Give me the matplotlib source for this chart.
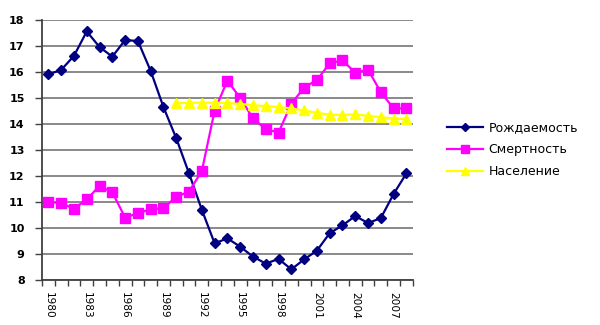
import numpy as np
import matplotlib.pyplot as plt

plt.rcParams['font.family'] = ['DejaVu Sans']

years = list(range(1980, 2009))
birth = [15.91, 16.08, 16.62, 17.56, 16.96, 16.59, 17.23, 17.19, 16.04, 14.65,
         13.45, 12.10, 10.70, 9.41, 9.60, 9.28, 8.90, 8.63, 8.81, 8.41,
         8.79, 9.13, 9.80, 10.10, 10.46, 10.19, 10.38, 11.31, 12.10]
death = [11.01, 10.95, 10.74, 11.10, 11.62, 11.37, 10.40, 10.57, 10.72, 10.76,
         11.20, 11.40, 12.19, 14.51, 15.67, 15.00, 14.22, 13.80, 13.67, 14.78,
         15.40, 15.69, 16.33, 16.45, 15.97, 16.09, 15.22, 14.60, 14.60]
pop_years = list(range(1990, 2009))
population = [14.79, 14.82, 14.82, 14.82, 14.81, 14.77, 14.72, 14.69, 14.65, 14.60,
              14.52, 14.43, 14.36, 14.35, 14.37, 14.31, 14.26, 14.21, 14.19]
labels = ['Рождаемость', 'Смертность', 'Население']

fig = plt.figure(figsize=(6, 3.25), dpi=100)
ax = fig.add_axes([0.07, 0.1385, 0.618, 0.8])

x = np.arange(len(years))
xp = np.array([years.index(y) for y in pop_years])

ax.plot(x, birth, color='#000080', marker='D', markersize=5.5, lw=1.6, label=labels[0], zorder=3)
ax.plot(x, death, color='#FF00FF', marker='s', markersize=6.5, lw=1.6, label=labels[1], zorder=3)
ax.plot(xp, population, color='#FFFF00', marker='^', markersize=7, lw=1.6, label=labels[2], zorder=3)

ax.set_xlim(-0.5, len(years) - 0.5)
ax.set_ylim(8, 18)
ax.set_yticks(range(8, 19))
ax.yaxis.grid(True, color='#808080', lw=1.3)
ax.set_axisbelow(True)

ax.set_xticks(x[::3])
ax.set_xticklabels([str(y) for y in years[::3]], rotation=-90)
ax.set_xticks(np.arange(-0.5, len(years)), minor=True)
ax.tick_params(axis='x', which='major', length=0, pad=9, labelsize=7.6)
ax.tick_params(axis='x', which='minor', length=4, color='#404040', width=1)
ax.tick_params(axis='y', length=5, color='#404040', width=1, labelsize=8, pad=7.5)
for t in ax.get_yticklabels():
    t.set_fontweight('bold')

for s in ['top', 'right']:
    ax.spines[s].set_visible(False)
for s in ['left', 'bottom']:
    ax.spines[s].set_color('#404040')
    ax.spines[s].set_linewidth(1.3)

ax.legend(loc='center left', bbox_to_anchor=(1.062, 0.5), frameon=False,
          fontsize=9, handlelength=2.9, labelspacing=0.72, handletextpad=0.4,
          borderpad=0.4, markerscale=0.8)

fig.savefig('out.png', dpi=100)
